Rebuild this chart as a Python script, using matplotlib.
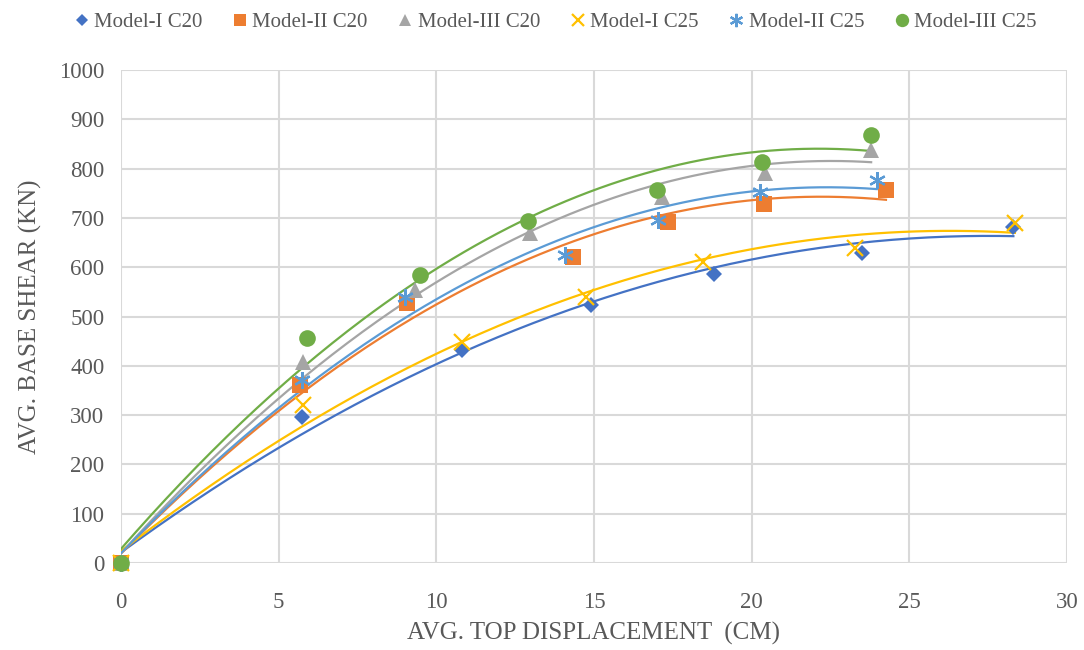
import numpy as np
import matplotlib
matplotlib.use('Agg')
import matplotlib.pyplot as plt

plt.rcParams['font.family'] = ['Liberation Serif', 'DejaVu Serif']

# 数据 (位移 cm, 基底剪力 kN)
x_m1_c20 = [0, 5.74, 10.8, 14.9, 18.8, 23.5, 28.3]
y_m1_c20 = [0, 297, 432, 523, 587, 629, 682]
x_m2_c20 = [0, 5.68, 9.07, 14.34, 17.35, 20.4, 24.26]
y_m2_c20 = [0, 361, 528, 621, 692, 728, 757]
x_m3_c20 = [0, 5.77, 9.32, 12.97, 17.16, 20.42, 23.79]
y_m3_c20 = [0, 408, 553, 669, 742, 791, 838]
x_m1_c25 = [0, 5.77, 10.8, 14.75, 18.46, 23.28, 28.35]
y_m1_c25 = [0, 321, 449, 540, 611, 639, 690]
x_m2_c25 = [0, 5.74, 9.0, 14.08, 17.03, 20.27, 23.97]
y_m2_c25 = [0, 371, 540, 625, 696, 753, 777]
x_m3_c25 = [0, 5.9, 9.48, 12.9, 17.0, 20.33, 23.79]
y_m3_c25 = [0, 457, 585, 694, 757, 813, 869]

series = [
    ('Model-I C20', x_m1_c20, y_m1_c20, '#4472C4', 'D', 8),
    ('Model-II C20', x_m2_c20, y_m2_c20, '#ED7D31', 's', 11),
    ('Model-III C20', x_m3_c20, y_m3_c20, '#A5A5A5', '^', 11),
    ('Model-I C25', x_m1_c25, y_m1_c25, '#FFC000', 'x', 11),
    ('Model-II C25', x_m2_c25, y_m2_c25, '#5B9BD5', (6, 2, 0), 12),
    ('Model-III C25', x_m3_c25, y_m3_c25, '#70AD47', 'o', 12),
]

fig = plt.figure(figsize=(10.84, 6.5), dpi=100)
ax = fig.add_axes([0.1116, 0.1338, 0.8727, 0.7585])

for name, xs, ys, c, m, ms in series:
    # 二次多项式趋势线
    coef = np.polyfit(xs, ys, 2)
    xx = np.linspace(0, max(xs), 200)
    ax.plot(xx, np.polyval(coef, xx), color=c, lw=1.6, zorder=2)
    if m in ('x', (6, 2, 0)):
        ax.plot(xs, ys, linestyle='none', marker=m, markersize=ms, color=c,
                markeredgewidth=1.6, label=name, zorder=3, clip_on=False)
    else:
        ax.plot(xs, ys, linestyle='none', marker=m, markersize=ms, color=c,
                markeredgewidth=0, label=name, zorder=3, clip_on=False)

ax.set_xlim(0, 30)
ax.set_ylim(0, 1000)
ax.set_xticks(range(0, 31, 5))
ax.set_yticks(range(0, 1001, 100))
ax.grid(True, color='#D9D9D9', linewidth=1.5)
ax.set_axisbelow(True)
for s in ax.spines.values():
    s.set_visible(False)
ax.tick_params(length=0, labelsize=16.5, colors='#595959')
ax.tick_params(axis='x', pad=21)
ax.tick_params(axis='y', pad=12)
ax.set_xlabel('AVG. TOP DISPLACEMENT  (CM)', fontsize=18, color='#595959', labelpad=6)
ax.set_ylabel('AVG. BASE SHEAR (KN)', fontsize=18, color='#595959', labelpad=12)

fig.legend(loc='upper center', bbox_to_anchor=(0.51, 1.01), ncol=6, frameon=False,
           fontsize=15, handletextpad=0.0, columnspacing=1.2, handlelength=1.2,
           markerscale=0.8, labelcolor='#595959')

fig.savefig('out.png', dpi=100)
